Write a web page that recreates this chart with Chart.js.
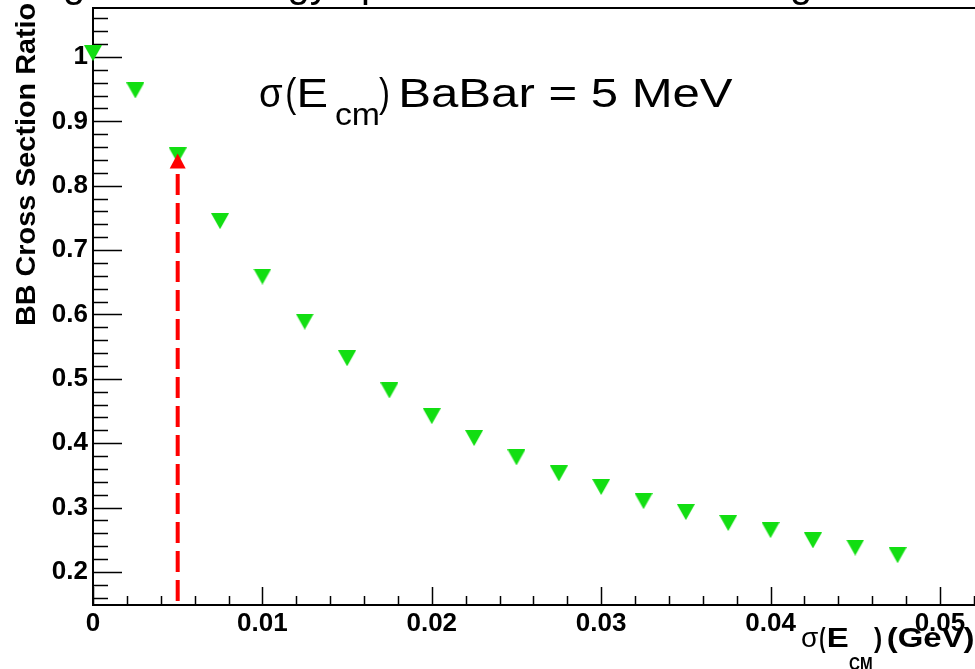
<!DOCTYPE html>
<html><head><meta charset="utf-8">
<script src="https://cdn.jsdelivr.net/npm/chart.js@4/dist/chart.umd.min.js"></script>
<style>html,body{margin:0;padding:0;background:#fff;overflow:hidden}#wrap{width:975px;height:669px;position:relative}</style>
</head><body><div id="wrap"><canvas id="c" width="975" height="669"></canvas></div>
<script>
// ---- data ----
const sigmaEcm = [0, 0.0025, 0.005, 0.0075, 0.01, 0.0125, 0.015, 0.0175, 0.02, 0.0225,
                  0.025, 0.0275, 0.03, 0.0325, 0.035, 0.0375, 0.04, 0.0425, 0.045, 0.0475];
const bbRatio  = [1.006, 0.948, 0.847, 0.745, 0.659, 0.589, 0.532, 0.482, 0.442, 0.408,
                  0.378, 0.353, 0.332, 0.310, 0.293, 0.276, 0.265, 0.249, 0.238, 0.226];
const xTicks = [0, 0.01, 0.02, 0.03, 0.04, 0.05];
const xTickLabels = ['0', '0.01', '0.02', '0.03', '0.04', '0.05'];
const yTicks = [0.2, 0.3, 0.4, 0.5, 0.6, 0.7, 0.8, 0.9, 1.0];
const yTickLabels = ['0.2', '0.3', '0.4', '0.5', '0.6', '0.7', '0.8', '0.9', '1'];
const arrowX = 0.005, arrowFrom = 0.155, arrowTo = 0.85;
const titleText = 'Using beam energy spread in the BB smearing';
const yTitle = 'BB Cross Section Ratio';
const noteParts = ['\u03c3', '(', 'E', 'cm', ')', 'BaBar = 5 MeV'];
const xTitleParts = ['\u03c3', '(', 'E', 'CM', ')', '(GeV)'];

const FONT = '"Liberation Sans", Arial, Helvetica, sans-serif';
const GREEN = 'rgb(18,222,18)';

// down-triangle marker
const tri = document.createElement('canvas');
tri.width = 18; tri.height = 16;
{
  const t = tri.getContext('2d');
  t.fillStyle = GREEN;
  t.beginPath(); t.moveTo(0, 0); t.lineTo(18, 0); t.lineTo(9, 16); t.closePath(); t.fill();
}

function fitInk(ctx, str, x0, x1, baseline, font) {
  ctx.save();
  ctx.font = font;
  ctx.textAlign = 'left';
  ctx.textBaseline = 'alphabetic';
  const m = ctx.measureText(str);
  const inkW = m.actualBoundingBoxLeft + m.actualBoundingBoxRight;
  const sx = (x1 - x0) / inkW;
  ctx.translate(x0 + m.actualBoundingBoxLeft * sx, baseline);
  ctx.scale(sx, 1);
  ctx.fillText(str, 0, 0);
  ctx.restore();
}

function noPad(s) { s.paddingTop = 0; s.paddingBottom = 0; s.paddingLeft = 0; s.paddingRight = 0; }

const rootStyle = {
  id: 'rootStyle',
  beforeDatasetsDraw(chart) {
    const ctx = chart.ctx, a = chart.chartArea;
    const xs = chart.scales.x, ys = chart.scales.y;
    ctx.save();
    ctx.strokeStyle = '#000';
    ctx.lineWidth = 2;
    ctx.beginPath();
    ctx.moveTo(chart.width + 5, a.top); ctx.lineTo(a.left, a.top);
    ctx.lineTo(a.left, a.bottom); ctx.lineTo(chart.width + 5, a.bottom);
    ctx.stroke();
    ctx.lineWidth = 1.5;
    ctx.beginPath();
    // y ticks
    for (let v = 0.16; v < ys.max; v += 0.02) {
      const p = Math.round(ys.getPixelForValue(v)) + 0.5;
      const major = Math.abs(v * 10 - Math.round(v * 10)) < 1e-6;
      ctx.moveTo(a.left, p); ctx.lineTo(a.left + (major ? 29 : 15), p);
    }
    // x ticks
    for (let v = 0; v < xs.max; v += 0.002) {
      const p = Math.round(xs.getPixelForValue(v)) + 0.5;
      const major = Math.abs(v * 100 - Math.round(v * 100)) < 1e-6;
      ctx.moveTo(p, a.bottom); ctx.lineTo(p, a.bottom - (major ? 18 : 9));
    }
    ctx.stroke();
    ctx.restore();
  },
  afterDatasetsDraw(chart) {
    const ctx = chart.ctx;
    const xs = chart.scales.x, ys = chart.scales.y;
    const ax = xs.getPixelForValue(arrowX);
    const y0 = ys.getPixelForValue(arrowFrom);
    const y1 = ys.getPixelForValue(arrowTo);
    ctx.save();
    ctx.strokeStyle = '#ff0000';
    ctx.fillStyle = '#ff0000';
    ctx.lineWidth = 4;
    ctx.setLineDash([21, 8]);
    ctx.beginPath(); ctx.moveTo(ax, y0); ctx.lineTo(ax, y1 + 14); ctx.stroke();
    ctx.setLineDash([]);
    ctx.beginPath();
    ctx.moveTo(ax, y1); ctx.lineTo(ax - 8, y1 + 15); ctx.lineTo(ax + 8, y1 + 15); ctx.closePath();
    ctx.fill();
    ctx.restore();
  },
  afterDraw(chart) {
    const ctx = chart.ctx;
    ctx.save();
    ctx.fillStyle = '#000';
    // cut-off title
    ctx.font = '40px ' + FONT;
    ctx.textBaseline = 'alphabetic';
    ctx.fillText(titleText, -17, -3);
    // annotation
    const nf = '40px ' + FONT, sf = '31px ' + FONT;
    fitInk(ctx, noteParts[0], 260, 283, 107, nf);
    fitInk(ctx, noteParts[1], 287, 297, 107, nf);
    fitInk(ctx, noteParts[2], 300, 326, 107, nf);
    fitInk(ctx, noteParts[3], 336, 378, 125, sf);
    fitInk(ctx, noteParts[4], 379, 388, 107, nf);
    fitInk(ctx, noteParts[5], 402, 733, 107, nf);
    // x title
    const bf = 'bold 28px ' + FONT;
    fitInk(ctx, xTitleParts[0], 802, 818, 647, '28px ' + FONT);
    fitInk(ctx, xTitleParts[1], 820, 826, 647, bf);
    fitInk(ctx, xTitleParts[2], 828, 848, 647, bf);
    fitInk(ctx, xTitleParts[3], 849, 872, 670, 'bold 19px ' + FONT);
    fitInk(ctx, xTitleParts[4], 874, 881, 647, bf);
    fitInk(ctx, xTitleParts[5], 888, 973, 647, bf);
    // y title (rotated)
    ctx.translate(35, 0);
    ctx.rotate(-Math.PI / 2);
    fitInk(ctx, yTitle, -325, -3, 0, 'bold 28px ' + FONT);
    ctx.restore();
  }
};

new Chart(document.getElementById('c'), {
  type: 'scatter',
  data: {
    datasets: [{
      data: sigmaEcm.map((x, i) => ({ x: x, y: bbRatio[i] })),
      pointStyle: tri,
      pointRadius: 9,
      backgroundColor: GREEN,
      borderWidth: 0,
      clip: false
    }]
  },
  options: {
    responsive: false,
    animation: false,
    devicePixelRatio: 1,
    layout: { autoPadding: false, padding: { top: 8, left: 0, right: 0, bottom: 0 } },
    plugins: { legend: { display: false }, tooltip: { enabled: false }, title: { display: false } },
    scales: {
      x: {
        type: 'linear', position: 'bottom',
        min: 0, max: 0.05207,
        grid: { display: false, drawTicks: false },
        border: { display: false },
        afterBuildTicks: s => { s.ticks = xTicks.map(v => ({ value: v })); },
        afterFit: s => { s.height = 64; noPad(s); },
        ticks: {
          autoSkip: false, maxRotation: 0, padding: 3, color: '#000',
          font: { family: FONT, size: 26, weight: 'bold' },
          callback: (v, i) => xTickLabels[i]
        }
      },
      y: {
        type: 'linear', position: 'left',
        min: 0.1487, max: 1.0761,
        grid: { display: false, drawTicks: false },
        border: { display: false },
        afterBuildTicks: s => { s.ticks = yTicks.map(v => ({ value: v })); },
        afterFit: s => { s.width = 93; noPad(s); },
        ticks: {
          autoSkip: false, padding: 5, color: '#000',
          font: { family: FONT, size: 26, weight: 'bold' },
          callback: (v, i) => yTickLabels[i]
        }
      }
    }
  },
  plugins: [rootStyle]
});
</script>
</body></html>
